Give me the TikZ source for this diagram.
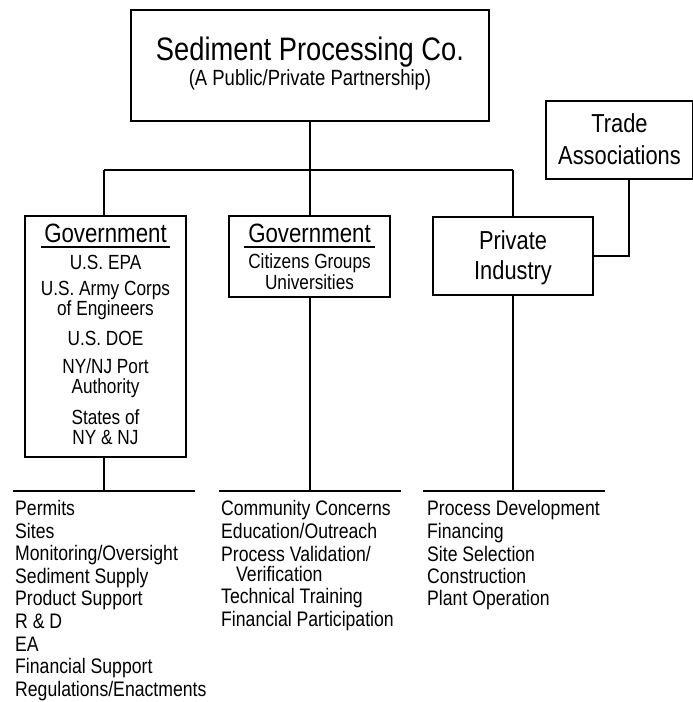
\documentclass[tikz,border=0pt]{standalone}
\usepackage{fontspec}
\setmainfont{Liberation Sans}[FakeStretch=0.84]
\newcommand\fsz[1]{\fontsize{#1}{#1}\selectfont}
\begin{document}
\begin{tikzpicture}[x=1pt,y=-1pt,
  box/.style={draw,line width=1.5pt,inner sep=0pt},
  conn/.style={line width=1.5pt},
  bar/.style={line width=2.2pt},
  uline/.style={line width=1.4pt},
  ttl/.style={font=\fsz{32.5},anchor=base},
  sub/.style={font=\fsz{22},anchor=base},
  head/.style={font=\fsz{26.5},anchor=base},
  big/.style={font=\fsz{26},anchor=base},
  txt/.style={font=\fsz{20.5},anchor=base,inner sep=1pt},
  item/.style={font=\fsz{21},anchor=base west,inner sep=0pt}]
\useasboundingbox (0,0) rectangle (693,702);
% boxes
\node[box,minimum width=358pt,minimum height=111pt] (top) at (310,65.5) {};
\node[box,minimum width=161pt,minimum height=241pt] (gov1) at (105.5,336.5) {};
\node[box,minimum width=161pt,minimum height=81pt] (gov2) at (309.5,256.5) {};
\node[box,minimum width=160pt,minimum height=78pt] (priv) at (513,256) {};
\node[box,minimum width=147pt,minimum height=78pt] (trade) at (619.5,140) {};
% texts
\node[ttl] (t1) at (310,60) {Sediment Processing Co.};
\node[sub] (t2) at (310,85) {(A Public/Private Partnership)};
\node[head] (g1h) at (105.5,242) {Government};
\draw[uline] (41,247) -- (170,247);
\node[txt] (g1a) at (105.5,269) {U.S. EPA};
\node[txt] (g1b) at (105.5,295) {U.S. Army Corps};
\node[txt] (g1c) at (105.5,315) {of Engineers};
\node[txt] (g1d) at (105.5,345) {U.S. DOE};
\node[txt] (g1e) at (105.5,373) {NY/NJ Port};
\node[txt] (g1f) at (105.5,393) {Authority};
\node[txt] (g1g) at (105.5,424) {States of};
\node[txt] (g1h2) at (105.5,444) {NY \& NJ};
\node[head] (g2h) at (309.5,242) {Government};
\draw[uline] (244,247) -- (375,247);
\node[txt] (g2a) at (309.5,268) {Citizens Groups};
\node[txt] (g2b) at (309.5,289) {Universities};
\node[big] (p1) at (513,249) {Private};
\node[big] (p2) at (513,279) {Industry};
\node[big] (tr1) at (619.5,132) {Trade};
\node[big] (tr2) at (619.5,164) {Associations};
% tree connectors
\coordinate (jt) at (310,170);
\coordinate (jl) at (104,170);
\coordinate (jr) at (513,170);
\draw[conn] (top.south -| jt) -- (jt);
\draw[conn] (jl) -- (jr);
\draw[conn] (jl) -- (gov1.north -| jl);
\draw[conn] (jt |- gov2.north) -- (jt);
\draw[conn] (jr) -- (priv.north);
\coordinate (tc) at (629,256);
\draw[conn] (trade.south -| tc) -- (tc) -- (priv.east |- tc);
% bottom bars
\coordinate (b1l) at (13,491); \coordinate (b1r) at (195,491);
\coordinate (b2l) at (219,491); \coordinate (b2r) at (401,491);
\coordinate (b3l) at (423,491); \coordinate (b3r) at (605,491);
\draw[bar] (b1l) -- (b1r);
\draw[bar] (b2l) -- (b2r);
\draw[bar] (b3l) -- (b3r);
\draw[conn] (gov1.south -| jl) -- (jl |- b1l);
\draw[conn] (gov2.south -| jt) -- (jt |- b2l);
\draw[conn] (priv.south) -- (jr |- b3l);
% lists
\node[item] (l1) at (15,515) {Permits};
\node[item] (l2) at (15,538) {Sites};
\node[item] (l3) at (15,560) {Monitoring/Oversight};
\node[item] (l4) at (15,583) {Sediment Supply};
\node[item] (l5) at (15,605) {Product Support};
\node[item] (l6) at (15,628) {R \& D};
\node[item] (l7) at (15,651) {EA};
\node[item] (l8) at (15,673) {Financial Support};
\node[item] (l9) at (15,696) {Regulations/Enactments};
\node[item] (m1) at (221,515) {Community Concerns};
\node[item] (m2) at (221,538) {Education/Outreach};
\node[item] (m3) at (221,561) {Process Validation/};
\node[item] (m4) at (236,581) {Verification};
\node[item] (m5) at (221,603) {Technical Training};
\node[item] (m6) at (221,626) {Financial Participation};
\node[item] (r1) at (427,515) {Process Development};
\node[item] (r2) at (427,538) {Financing};
\node[item] (r3) at (427,561) {Site Selection};
\node[item] (r4) at (427,583) {Construction};
\node[item] (r5) at (427,605) {Plant Operation};
\end{tikzpicture}
\end{document}
